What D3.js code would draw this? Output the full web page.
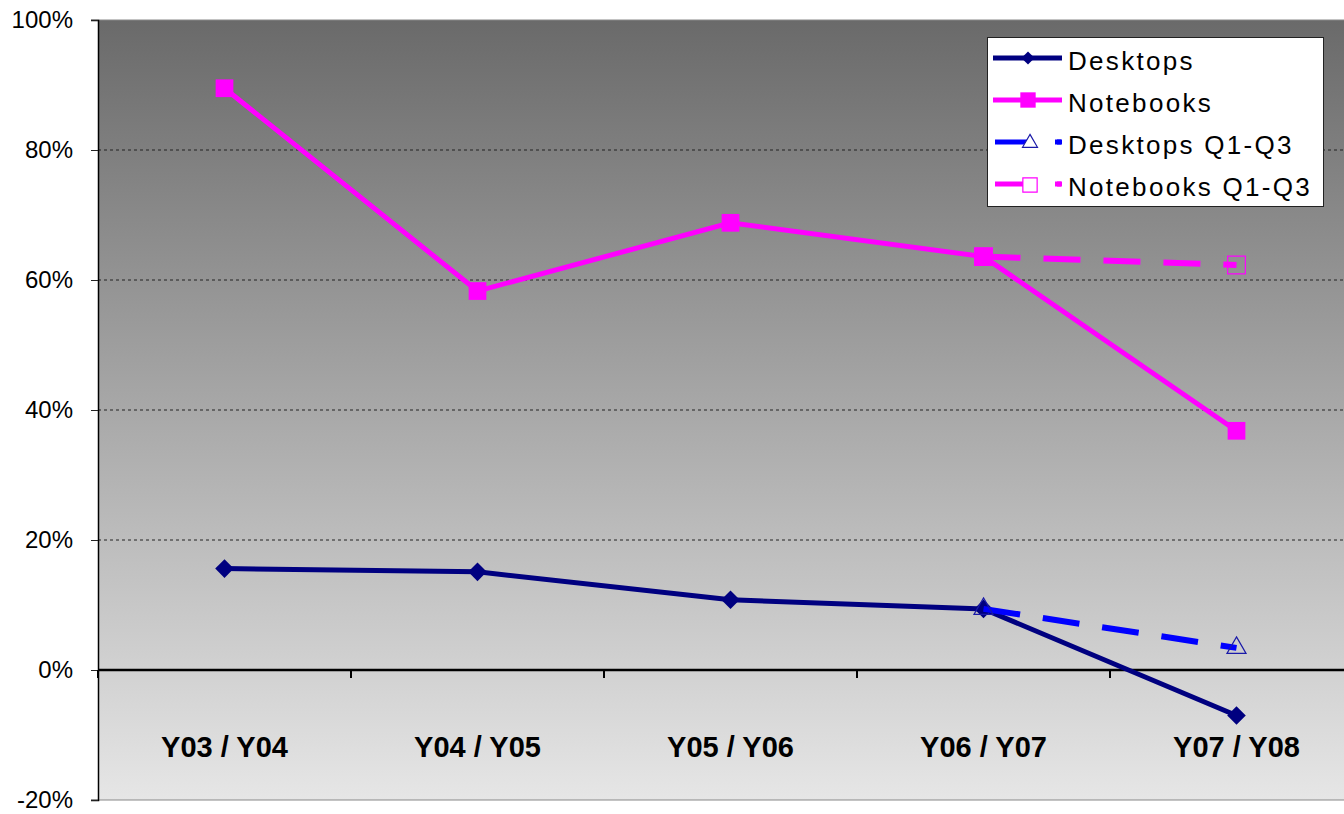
<!DOCTYPE html>
<html>
<head>
<meta charset="utf-8">
<script src="https://cdn.jsdelivr.net/npm/d3@7"></script>
<style>
  body { margin: 0; background: #fff; }
  svg { display: block; font-family: "Liberation Sans", Arial, sans-serif; }
</style>
</head>
<body>
<div id="chart"></div>
<script>
// chart data
const categories = ["Y03 / Y04", "Y04 / Y05", "Y05 / Y06", "Y06 / Y07", "Y07 / Y08"];
const desktops = [15.6, 15.1, 10.8, 9.4, -7.0];
const notebooks = [89.5, 58.3, 68.8, 63.6, 36.8];
const desktopsQ = [null, null, null, 9.4, 3.4];
const notebooksQ = [null, null, null, 63.6, 62.3];
const yTicks = [-20, 0, 20, 40, 60, 80, 100];
const legendNames = ["Desktops", "Notebooks", "Desktops Q1-Q3", "Notebooks Q1-Q3"];

let width = 1344, height = 814;
let margin = {top: 20, left: 98, bottom: 800, right: 1363};

let svg = d3.select("#chart").append("svg")
    .attr("width", width)
    .attr("height", height);

let x = d3.scaleBand().domain(categories).range([margin.left, margin.right]);
let y = d3.scaleLinear().domain([-20, 100]).range([margin.bottom, margin.top]);

// background gradient
let grad = svg.append("defs").append("linearGradient")
    .attr("id", "bg").attr("x1", 0).attr("y1", 0).attr("x2", 0).attr("y2", 1);
grad.append("stop").attr("offset", "0%").attr("stop-color", "#6a6a6a");
grad.append("stop").attr("offset", "100%").attr("stop-color", "#e6e6e6");

svg.append("rect")
    .attr("x", margin.left).attr("y", margin.top)
    .attr("width", width - margin.left).attr("height", margin.bottom - margin.top)
    .attr("fill", "url(#bg)");

// dotted grid lines
svg.selectAll(".grid")
    .data(yTicks.filter(d => d > 0 && d < 100))
    .enter().append("line")
    .attr("x1", margin.left).attr("x2", width)
    .attr("y1", d => y(d)).attr("y2", d => y(d))
    .attr("stroke", "#222").attr("stroke-width", 1)
    .attr("stroke-dasharray", "3,3");

// top and bottom border
[100, -20].forEach(v => {
    svg.append("line")
        .attr("x1", margin.left - 7).attr("x2", width)
        .attr("y1", y(v)).attr("y2", y(v))
        .attr("stroke", "#888").attr("stroke-width", 1.2);
});

// y axis
let yAxis = svg.append("g")
    .attr("transform", "translate(" + margin.left + ",0)")
    .call(d3.axisLeft(y).tickValues(yTicks).tickSize(7).tickPadding(18)
        .tickFormat(d => d + "%"));
yAxis.select(".domain").attr("stroke", "#000").attr("stroke-width", 1.5);
yAxis.selectAll(".tick line").attr("stroke", "#222");
yAxis.selectAll("text")
    .attr("font-size", 24).attr("fill", "#000")
    .attr("font-family", "Liberation Sans, Arial, sans-serif");

// zero line with category ticks
svg.append("line")
    .attr("x1", margin.left).attr("x2", width)
    .attr("y1", y(0)).attr("y2", y(0))
    .attr("stroke", "#000").attr("stroke-width", 2.5);
svg.selectAll(".ctick")
    .data(categories)
    .enter().append("line")
    .attr("x1", d => x(d)).attr("x2", d => x(d))
    .attr("y1", y(0)).attr("y2", y(0) + 8)
    .attr("stroke", "#000").attr("stroke-width", 2);

svg.selectAll(".clabel")
    .data(categories)
    .enter().append("text")
    .attr("x", d => x(d) + x.bandwidth() / 2)
    .attr("y", 757)
    .attr("text-anchor", "middle")
    .attr("font-size", 29).attr("font-weight", "bold")
    .text(d => d);

let cx = (d, i) => x(categories[i]) + x.bandwidth() / 2;
let line = d3.line()
    .defined(d => d !== null)
    .x((d, i) => cx(d, i))
    .y(d => y(d));

// series lines
svg.append("path").datum(desktops).attr("d", line)
    .attr("fill", "none").attr("stroke", "#000080").attr("stroke-width", 5);
svg.append("path").datum(notebooks).attr("d", line)
    .attr("fill", "none").attr("stroke", "#ff00ff").attr("stroke-width", 5);

// markers
let diamond = d3.symbol().type(d3.symbolDiamond2).size(220);
let square = d3.symbol().type(d3.symbolSquare2).size(400);
let triangle = d3.symbol().type(d3.symbolTriangle2).size(260);

svg.selectAll(".dmark").data(desktops).enter().append("path")
    .attr("d", diamond)
    .attr("transform", (d, i) => "translate(" + cx(d, i) + "," + y(d) + ")")
    .attr("fill", "#000080");
svg.selectAll(".nmark").data(notebooks).enter().append("path")
    .attr("d", square)
    .attr("transform", (d, i) => "translate(" + cx(d, i) + "," + y(d) + ")")
    .attr("fill", "#ff00ff");

// Q1-Q3 dashed series
svg.append("path").datum(desktopsQ).attr("d", line)
    .attr("fill", "none").attr("stroke", "#0000ff").attr("stroke-width", 6)
    .attr("stroke-dasharray", "37,23");
svg.append("path").datum(notebooksQ).attr("d", line)
    .attr("fill", "none").attr("stroke", "#ff00ff").attr("stroke-width", 6)
    .attr("stroke-dasharray", "37,23");

desktopsQ.forEach((d, i) => {
    if (d === null) return;
    svg.append("path").attr("d", triangle)
        .attr("transform", "translate(" + cx(d, i) + "," + y(d) + ")")
        .attr("fill", "none").attr("stroke", "#1a1aa8").attr("stroke-width", 1.2);
});
notebooksQ.forEach((d, i) => {
    if (d === null) return;
    svg.append("path").attr("d", square)
        .attr("transform", "translate(" + cx(d, i) + "," + y(d) + ")")
        .attr("fill", "none").attr("stroke", "#ff00ff").attr("stroke-width", 1.2);
});

// legend
let legend = svg.append("g");
legend.append("rect")
    .attr("x", 987.5).attr("y", 37.5).attr("width", 336).attr("height", 169)
    .attr("fill", "#fff").attr("stroke", "#222").attr("stroke-width", 1);

let rowY = [58, 100, 142, 184];
let legColors = ["#000080", "#ff00ff", "#0000ff", "#ff00ff"];

legendNames.forEach((name, i) => {
    let ly = rowY[i];
    if (i < 2) {
        legend.append("line")
            .attr("x1", 993).attr("x2", 1062).attr("y1", ly).attr("y2", ly)
            .attr("stroke", legColors[i]).attr("stroke-width", 5);
        if (i === 0) {
            legend.append("path").attr("d", d3.symbol().type(d3.symbolDiamond2).size(110))
                .attr("transform", "translate(1028," + ly + ")")
                .attr("fill", "#000080");
        } else {
            legend.append("path").attr("d", d3.symbol().type(d3.symbolSquare2).size(300))
                .attr("transform", "translate(1028," + ly + ")")
                .attr("fill", "#ff00ff");
        }
    } else {
        legend.append("line")
            .attr("x1", 995).attr("x2", 1062).attr("y1", ly).attr("y2", ly)
            .attr("stroke", legColors[i]).attr("stroke-width", 5)
            .attr("stroke-dasharray", "37,23");
        let sym = i === 2
            ? d3.symbol().type(d3.symbolTriangle2).size(160)
            : d3.symbol().type(d3.symbolSquare2).size(260);
        legend.append("path").attr("d", sym)
            .attr("transform", "translate(1030," + (ly + 1) + ")")
            .attr("fill", "#fff")
            .attr("stroke", i === 2 ? "#1a1aa8" : "#ff00ff").attr("stroke-width", 1.2);
        legend.append("rect").attr("x", 1057).attr("y", ly - 2.5).attr("width", 4).attr("height", 5)
            .attr("fill", legColors[i]);
    }
    legend.append("text")
        .attr("x", 1068).attr("y", ly + 12)
        .attr("font-size", 26).attr("letter-spacing", 2.3)
        .text(name);
});
</script>
</body>
</html>
